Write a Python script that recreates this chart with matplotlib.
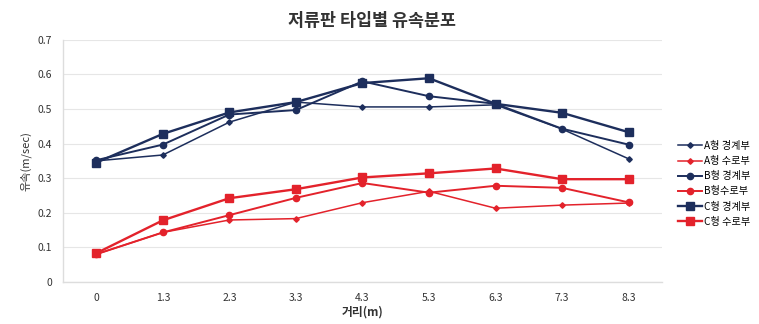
import matplotlib
matplotlib.use("Agg")
import matplotlib.pyplot as plt

plt.rcParams['font.family'] = ['Noto Sans CJK KR', 'DejaVu Sans']

categories = ["0", "1.3", "2.3", "3.3", "4.3", "5.3", "6.3", "7.3", "8.3"]
a_boundary = [0.350, 0.367, 0.462, 0.520, 0.506, 0.506, 0.512, 0.442, 0.356]
a_channel  = [0.080, 0.143, 0.179, 0.183, 0.229, 0.262, 0.213, 0.222, 0.228]
b_boundary = [0.352, 0.397, 0.484, 0.497, 0.580, 0.537, 0.515, 0.443, 0.397]
b_channel  = [0.080, 0.143, 0.193, 0.243, 0.286, 0.258, 0.278, 0.272, 0.230]
c_boundary = [0.345, 0.428, 0.490, 0.520, 0.575, 0.589, 0.515, 0.489, 0.433]
c_channel  = [0.083, 0.178, 0.242, 0.268, 0.302, 0.314, 0.328, 0.297, 0.297]
labels = ["A형 경계부", "A형 수로부", "B형 경계부", "B형수로부", "C형 경계부", "C형 수로부"]

navy = "#1d2e5c"
red = "#e3222b"

fig = plt.figure(figsize=(7.59, 3.24), dpi=100)
ax = fig.add_axes([0.083, 0.13, 0.789, 0.747])
x = list(range(len(categories)))

series = [
    (a_boundary, navy, "D", 2.8, 1.1),
    (a_channel, red, "D", 2.8, 1.1),
    (b_boundary, navy, "o", 4.5, 1.4),
    (b_channel, red, "o", 4.5, 1.4),
    (c_boundary, navy, "s", 5.5, 1.7),
    (c_channel, red, "s", 5.5, 1.7),
]
for (vals, col, mk, ms, lw), lab in zip(series, labels):
    ax.plot(x, vals, color=col, marker=mk, markersize=ms, linewidth=lw, label=lab)

ax.set_xlim(-0.5, len(categories) - 0.5)
ax.set_ylim(0, 0.7)
ax.set_xticks(x)
ax.set_xticklabels(categories, fontsize=7.5, color="#333333")
ax.set_yticks([0, 0.1, 0.2, 0.3, 0.4, 0.5, 0.6, 0.7])
ax.set_yticklabels(["0", "0.1", "0.2", "0.3", "0.4", "0.5", "0.6", "0.7"], fontsize=7.5, color="#333333")
ax.tick_params(length=0, pad=8)
ax.grid(axis="y", color="#e6e6e6", linewidth=0.8)
ax.set_axisbelow(True)
for s in ["top", "right"]:
    ax.spines[s].set_visible(False)
for s in ["left", "bottom"]:
    ax.spines[s].set_color("#dddddd")
    ax.spines[s].set_linewidth(1.0)

ax.set_ylabel("유속(m/sec)", fontsize=8, color="#333333")
ax.set_xlabel("거리(m)", fontsize=8.5, fontweight="bold", color="#333333", labelpad=2)
fig.text(0.49, 0.935, "저류판 타입별 유속분포", ha="center", va="center", fontsize=12.5, fontweight="bold", color="#333333")

leg = ax.legend(loc="center left", bbox_to_anchor=(1.02, 0.405), frameon=False,
                fontsize=7.3, handlelength=2.4, labelspacing=0.5, handletextpad=0.2,
                borderaxespad=0)

fig.savefig("out.png", dpi=100)
